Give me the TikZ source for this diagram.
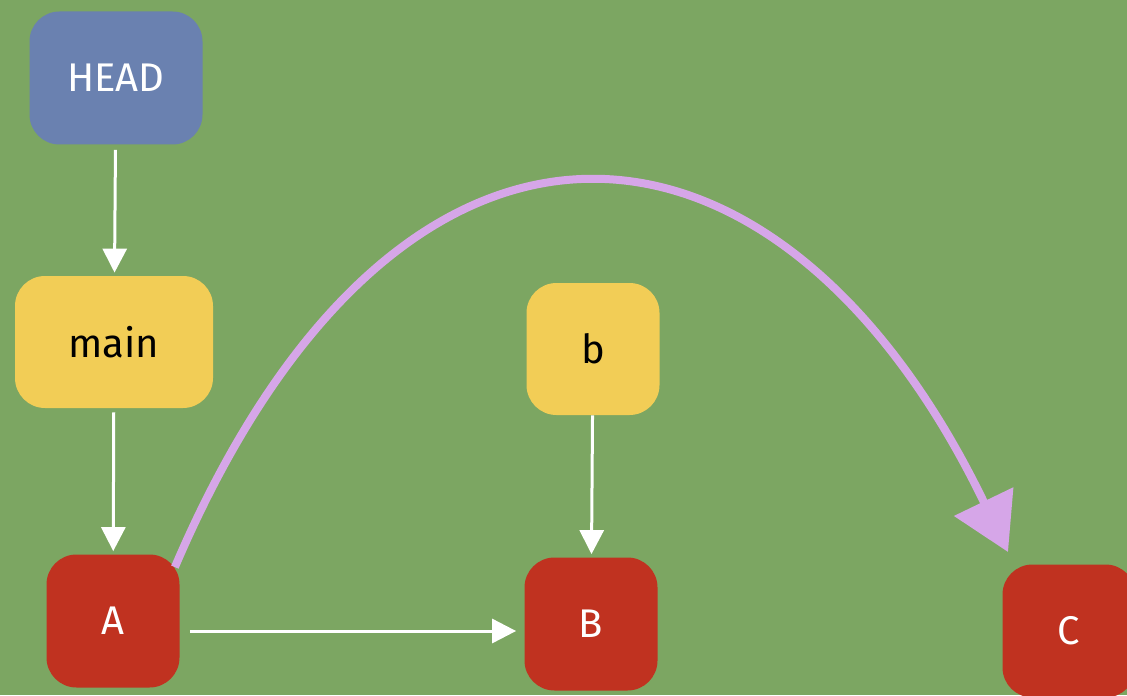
\documentclass[tikz,border=0pt]{standalone}
\usepackage{fontspec}
\setmainfont{Fira Sans}
\usepackage{tikz}
\usetikzlibrary{arrows.meta}
\definecolor{board}{RGB}{124,166,98}
\definecolor{headblue}{RGB}{106,129,176}
\definecolor{branchyellow}{RGB}{242,205,86}
\definecolor{commitred}{RGB}{192,50,32}
\definecolor{chalkpurple}{RGB}{214,166,232}

\begin{document}
\begin{tikzpicture}[x=0.5pt,y=-0.5pt,box/.style n args={3}{rectangle,fill=#1,minimum width=#2,minimum height=#3,rounded corners=15pt,inner sep=0pt,font=\fontsize{20}{24}\selectfont},ptr/.style={white,line width=1.5pt,-{Triangle[length=12pt,width=12pt]}},jump/.style={chalkpurple,line width=4pt,-{Triangle[length=28pt,width=32pt]}}]
\fill[board] (0,0) rectangle (1127,695);
\useasboundingbox (0,0) rectangle (1127,695);
\node[box={headblue}{86.5pt}{66.5pt},text=white] (head) at (116,78) {HEAD};
\node[box={branchyellow}{99pt}{66pt}] (main) at (114,342) {main};
\node[box={branchyellow}{66.5pt}{66pt}] (b) at (593,349) {b};
\foreach \n/\x/\y in %
{A/113/621,B/591/624,C/1069/631} {
   \node[box={commitred}{66.5pt}{66.5pt},text=white] (\n) at (\x,\y) {\n};
}
\coordinate (land) at (1008,552);
\draw[ptr,shorten <=2.5pt,shorten >=1.5pt] (head) -- (main);
\draw[ptr,shorten <=2pt,shorten >=1.5pt] (main) -- (A);
\draw[ptr,shorten >=1.5pt] (b) -- (B);
\draw[ptr,shorten <=5pt,shorten >=4pt] ([yshift=-5pt]A.east) -- ([yshift=-5pt]A.east -| B.west);
\draw[jump] ([shift={(-5,13)}]A.north east) .. controls (400,40) and (780,80) .. (land);
\end{tikzpicture}
\end{document}
